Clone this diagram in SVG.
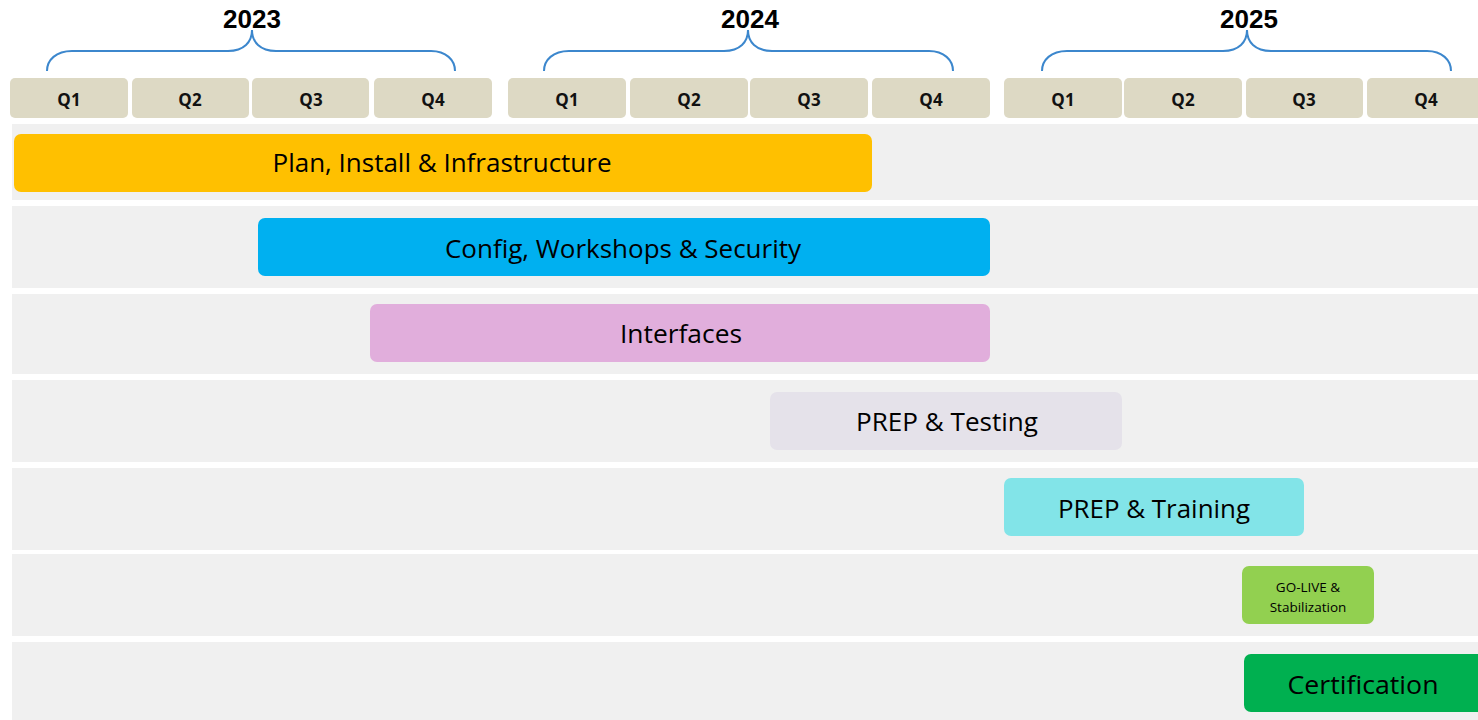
<svg xmlns="http://www.w3.org/2000/svg" width="1478" height="720" viewBox="0 0 1478 720">
<style>
.band{fill:#f0f0f0}
.q{fill:#ddd9c4}
.qt{font-family:"Open Sans","Liberation Sans",sans-serif;font-weight:bold;font-size:17px;fill:#111;text-anchor:middle}
.yr{font-family:"Liberation Sans",Arial,sans-serif;font-weight:bold;font-size:26px;fill:#000;text-anchor:middle}
.br{fill:none;stroke:#3c87cd;stroke-width:2}
.bt{font-family:"Open Sans","Noto Sans",sans-serif;font-size:25px;fill:#000;text-anchor:middle}
.st{font-family:"Open Sans","Noto Sans",sans-serif;font-size:13.5px;fill:#000;text-anchor:middle}
</style>
<rect width="1478" height="720" fill="#fff"/>
<g id="bands">
<rect class="band" x="12" y="124" width="1466" height="76"/>
<rect class="band" x="12" y="206" width="1466" height="82"/>
<rect class="band" x="12" y="294" width="1466" height="80"/>
<rect class="band" x="12" y="380" width="1466" height="82"/>
<rect class="band" x="12" y="468" width="1466" height="82"/>
<rect class="band" x="12" y="554" width="1466" height="82"/>
<rect class="band" x="12" y="642" width="1466" height="78"/>
</g>
<g id="years">
<text class="yr" x="252" y="28">2023</text>
<text class="yr" x="750" y="28">2024</text>
<text class="yr" x="1249" y="28">2025</text>
<path class="br" d="M47,71 C47,60 56,51 72,51 L228,51 C244,51 252,42 252,30 C252,42 260,51 276,51 L431,51 C446,51 455,60 455,71"/>
<path class="br" d="M544,71 C544,60 553,51 569,51 L724,51 C740,51 748,42 748,30 C748,42 756,51 772,51 L929,51 C944,51 953,60 953,71"/>
<path class="br" d="M1042,71 C1042,60 1051,51 1067,51 L1223,51 C1239,51 1247,42 1247,30 C1247,42 1255,51 1271,51 L1427,51 C1442,51 1451,60 1451,71"/>
</g>
<g id="quarters">
<rect class="q" x="10" y="78" width="118" height="40" rx="5"/><text class="qt" x="69" y="106">Q1</text>
<rect class="q" x="132" y="78" width="117" height="40" rx="5"/><text class="qt" x="190" y="106">Q2</text>
<rect class="q" x="252" y="78" width="117" height="40" rx="5"/><text class="qt" x="311" y="106">Q3</text>
<rect class="q" x="374" y="78" width="118" height="40" rx="5"/><text class="qt" x="433" y="106">Q4</text>
<rect class="q" x="508" y="78" width="118" height="40" rx="5"/><text class="qt" x="567" y="106">Q1</text>
<rect class="q" x="630" y="78" width="118" height="40" rx="5"/><text class="qt" x="689" y="106">Q2</text>
<rect class="q" x="750" y="78" width="118" height="40" rx="5"/><text class="qt" x="809" y="106">Q3</text>
<rect class="q" x="872" y="78" width="118" height="40" rx="5"/><text class="qt" x="931" y="106">Q4</text>
<rect class="q" x="1004" y="78" width="118" height="40" rx="5"/><text class="qt" x="1063" y="106">Q1</text>
<rect class="q" x="1124" y="78" width="118" height="40" rx="5"/><text class="qt" x="1183" y="106">Q2</text>
<rect class="q" x="1246" y="78" width="117" height="40" rx="5"/><text class="qt" x="1304" y="106">Q3</text>
<rect class="q" x="1367" y="78" width="120" height="40" rx="5"/><text class="qt" x="1426" y="106">Q4</text>
</g>
<g id="plan">
<rect x="14" y="134" width="858" height="58" rx="7" fill="#ffc000"/>
<text class="bt" x="442" y="172" textLength="339" lengthAdjust="spacingAndGlyphs">Plan, Install &amp; Infrastructure</text>
</g>
<g id="config">
<rect x="258" y="218" width="732" height="58" rx="7" fill="#00b0f0"/>
<text class="bt" x="623" y="258" textLength="356" lengthAdjust="spacingAndGlyphs">Config, Workshops &amp; Security</text>
</g>
<g id="interfaces">
<rect x="370" y="304" width="620" height="58" rx="7" fill="#e1aedc"/>
<text class="bt" x="681" y="343" textLength="122" lengthAdjust="spacingAndGlyphs">Interfaces</text>
</g>
<g id="testing">
<rect x="770" y="392" width="352" height="58" rx="7" fill="#e5e2ea"/>
<text class="bt" x="947" y="431" textLength="182" lengthAdjust="spacingAndGlyphs">PREP &amp; Testing</text>
</g>
<g id="training">
<rect x="1004" y="478" width="300" height="58" rx="7" fill="#82e4e8"/>
<text class="bt" x="1154" y="518" textLength="192" lengthAdjust="spacingAndGlyphs">PREP &amp; Training</text>
</g>
<g id="golive">
<rect x="1242" y="566" width="132" height="58" rx="7" fill="#92d050"/>
<text class="st" x="1308" y="592">GO-LIVE &amp;</text>
<text class="st" x="1308" y="612">Stabilization</text>
</g>
<g id="certification">
<rect x="1244" y="654" width="244" height="58" rx="7" fill="#00b050"/>
<text class="bt" x="1363" y="694" textLength="151" lengthAdjust="spacingAndGlyphs">Certification</text>
</g>
<g id="connectors"></g>
</svg>
